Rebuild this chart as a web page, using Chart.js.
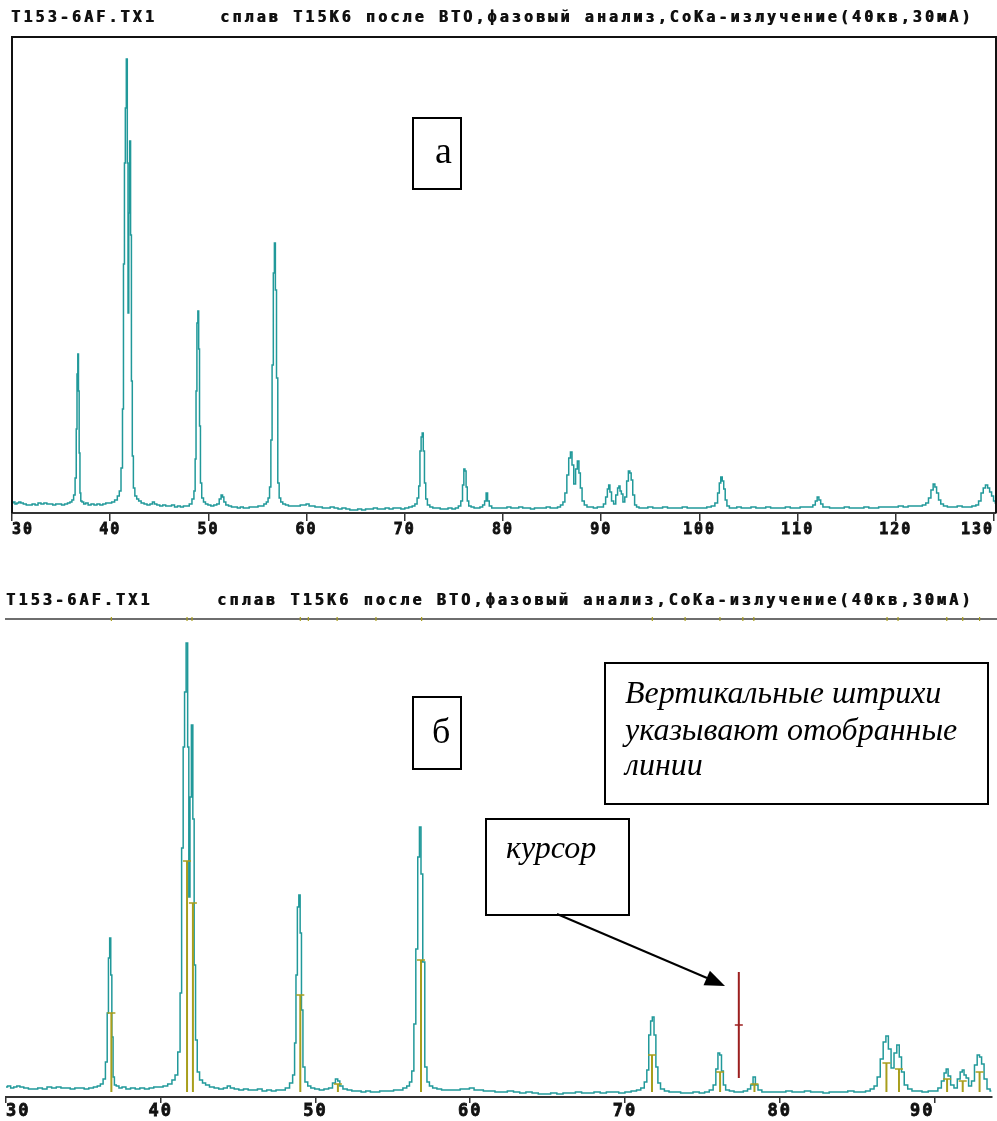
<!DOCTYPE html>
<html lang="ru">
<head>
<meta charset="utf-8">
<title>T153-6AF.TX1</title>
<script src="https://cdn.jsdelivr.net/npm/chart.js@4.4.1/dist/chart.umd.min.js"></script>
<style>
  html, body { margin: 0; padding: 0; background: #fff; }
  #page { position: relative; width: 997px; height: 1121px; overflow: hidden; }
  canvas { position: absolute; left: 0; }
  #top { top: 0; }
  #bottom { top: 545px; }
  svg { position: absolute; left: 0; top: 0; }
</style>
</head>
<body>
<div id="page">
  <canvas id="top" width="997" height="545"></canvas>
  <canvas id="bottom" width="997" height="576"></canvas>
  <svg width="997" height="1121" font-family="'Liberation Serif', 'Times New Roman', serif">
    <g fill="#fff" stroke="#000" stroke-width="2">
      <rect x="413" y="118" width="48" height="71"/>
      <rect x="413" y="697" width="48" height="72"/>
      <rect x="605" y="663" width="383" height="141"/>
      <rect x="486" y="819" width="143" height="96"/>
    </g>
    <text x="435" y="163" font-size="38">а</text>
    <text x="432" y="743" font-size="36">б</text>
    <g font-style="italic" font-size="32">
      <text x="625" y="703">Вертикальные штрихи</text>
      <text x="625" y="740">указывают отобранные</text>
      <text x="625" y="775">линии</text>
      <text x="506" y="858">курсор</text>
    </g>
    <line x1="557" y1="914" x2="707" y2="978" stroke="#000" stroke-width="2"/>
    <polygon points="725,986 703.5,985.3 709.9,970.7" fill="#000"/>
  </svg>
</div>
<script>
'use strict';
const fileName = 'T153-6AF.TX1';
const sampleTitle = 'сплав T15K6 после ВТО,фазовый анализ,CoKa-излучение(40кв,30мА)';

// diffractogram: [2theta, intensity]
const scan = [
  [30.0,10],[30.2,11],[30.4,9],[30.6,10],[30.8,11],[31.0,10],[31.3,9],[31.6,8],[31.9,8],[32.2,9],
  [32.5,8],[32.8,10],[33.1,9],[33.4,10],[33.7,9],[34.0,9],[34.3,8],[34.6,9],[34.9,9],[35.2,8],
  [35.5,9],[35.8,10],[36.0,11],[36.2,13],[36.35,18],[36.5,35],[36.58,84],[36.66,139],[36.74,159],[36.8,122],
  [36.88,60],[36.96,20],[37.05,12],[37.2,11],[37.4,9],[37.6,10],[37.9,8],[38.2,9],[38.5,8],[38.8,9],
  [39.1,8],[39.4,9],[39.7,10],[40.0,10],[40.3,11],[40.6,13],[40.85,17],[41.0,22],[41.2,45],[41.3,104],
  [41.4,249],[41.5,350],[41.58,405],[41.7,454],[41.78,350],[41.85,200],[41.93,300],[42.03,372],[42.12,278],[42.2,132],
  [42.3,57],[42.42,25],[42.6,17],[42.8,14],[43.0,12],[43.3,10],[43.6,9],[43.9,8],[44.2,9],[44.4,11],
  [44.6,9],[44.9,8],[45.2,7],[45.5,8],[45.8,7],[46.1,7],[46.4,8],[46.7,6],[47.0,7],[47.3,6],
  [47.6,7],[47.9,7],[48.2,9],[48.45,14],[48.6,22],[48.7,54],[48.78,122],[48.88,190],[48.97,202],[49.05,164],
  [49.14,87],[49.24,30],[49.4,15],[49.6,11],[49.8,9],[50.1,8],[50.4,7],[50.7,8],[51.0,9],[51.2,14],
  [51.38,18],[51.5,16],[51.65,11],[51.9,8],[52.2,7],[52.5,6],[52.8,6],[53.1,5],[53.4,6],[53.7,5],
  [54.0,5],[54.3,6],[54.6,6],[54.9,6],[55.2,7],[55.5,7],[55.8,9],[56.0,11],[56.15,15],[56.3,26],
  [56.42,73],[56.55,148],[56.67,240],[56.77,270],[56.87,223],[57.0,135],[57.13,30],[57.28,15],[57.45,11],[57.7,9],
  [58.0,8],[58.3,7],[58.6,7],[58.9,7],[59.2,7],[59.5,8],[59.8,8],[60.1,9],[60.4,7],[60.7,7],
  [61.0,6],[61.4,6],[61.8,5],[62.2,5],[62.6,6],[63.0,5],[63.4,4],[63.8,5],[64.2,4],[64.6,3],
  [65.0,3],[65.4,4],[65.8,3],[66.2,4],[66.6,4],[67.0,5],[67.4,4],[67.8,4],[68.2,5],[68.6,4],
  [69.0,5],[69.4,5],[69.8,4],[70.2,5],[70.6,6],[70.9,7],[71.15,9],[71.35,15],[71.48,27],[71.6,62],
  [71.72,76],[71.82,80],[71.94,62],[72.06,30],[72.2,14],[72.4,8],[72.7,6],[73.0,5],[73.4,5],[73.8,4],
  [74.2,4],[74.6,5],[75.0,4],[75.3,5],[75.6,7],[75.8,12],[75.95,28],[76.07,44],[76.18,42],[76.3,26],
  [76.42,12],[76.6,7],[76.9,6],[77.2,5],[77.5,5],[77.8,6],[78.05,8],[78.2,12],[78.36,20],[78.5,12],
  [78.7,7],[79.0,5],[79.4,5],[79.8,5],[80.2,5],[80.6,6],[81.0,5],[81.4,5],[81.8,6],[82.2,5],
  [82.6,5],[83.0,4],[83.4,5],[83.8,5],[84.2,5],[84.6,6],[85.0,5],[85.4,5],[85.7,6],[86.0,8],
  [86.2,11],[86.4,20],[86.6,38],[86.78,55],[86.95,61],[87.1,48],[87.3,29],[87.48,44],[87.66,52],[87.8,40],
  [87.95,25],[88.15,12],[88.4,8],[88.7,6],[89.0,6],[89.4,5],[89.8,6],[90.1,6],[90.35,9],[90.55,16],
  [90.7,24],[90.82,28],[90.95,21],[91.15,12],[91.38,9],[91.58,18],[91.75,25],[91.85,27],[91.98,22],[92.12,19],
  [92.3,11],[92.5,16],[92.68,32],[92.85,42],[92.98,40],[93.12,33],[93.3,18],[93.5,8],[93.7,6],[94.0,5],
  [94.5,5],[95.0,6],[95.5,5],[96.0,5],[96.5,6],[97.0,5],[97.5,5],[98.0,5],[98.5,6],[99.0,5],
  [99.5,5],[100.0,5],[100.5,5],[101.0,6],[101.4,7],[101.75,10],[101.95,20],[102.1,30],[102.25,36],[102.4,32],
  [102.55,24],[102.7,13],[102.9,7],[103.2,5],[103.6,5],[104.0,6],[104.5,5],[105.0,5],[105.5,6],[106.0,5],
  [106.5,5],[107.0,6],[107.5,5],[108.0,5],[108.5,5],[109.0,6],[109.5,5],[110.0,5],[110.5,6],[111.0,6],
  [111.4,6],[111.7,8],[111.9,12],[112.08,16],[112.25,13],[112.45,9],[112.7,6],[113.0,6],[113.5,5],[114.0,5],
  [114.5,5],[115.0,6],[115.5,5],[116.0,5],[116.5,5],[117.0,6],[117.5,5],[118.0,5],[118.5,6],[119.0,6],
  [119.5,6],[120.0,6],[120.5,7],[121.0,6],[121.5,7],[122.0,7],[122.5,7],[122.9,8],[123.2,10],[123.45,15],
  [123.7,23],[123.9,29],[124.05,26],[124.25,20],[124.45,13],[124.7,9],[125.0,7],[125.5,6],[126.0,6],[126.5,7],
  [127.0,6],[127.5,6],[128.0,7],[128.3,8],[128.55,12],[128.8,20],[129.0,25],[129.25,28],[129.45,25],[129.65,21],
  [129.85,17],[130.05,12],[130.2,10]
];

// selected lines (vertical strokes) in the lower picture
const stickAngles  = [36.81, 41.70, 42.08, 49.02, 51.45, 56.82, 71.75, 76.15, 78.37, 86.90, 87.71, 90.82, 91.83, 92.92];
const stickHeights = [84, 236, 194, 102, 13, 137, 42, 25, 13, 34, 28, 18, 16, 25];
const stickBase = 5;

// small marks on the header line
const markAngles = [36.81, 41.70, 42.02, 49.02, 49.54, 51.40, 53.91, 56.86, 71.77, 73.89,
                    76.14, 77.62, 78.33, 86.94, 87.65, 90.80, 91.83, 92.92];

const cursorAngle = 77.36;
const cursorRange = [19, 125];
const cursorTick = 72;

const xTicksTop = [30, 40, 50, 60, 70, 80, 90, 100, 110, 120, 130];
const xTicksBottom = [30, 40, 50, 60, 70, 80, 90];

const teal = '#21999a';
const olive = '#a89e1c';

// header in the wide bold screen font: one cell per char, drawn twice to fatten
function drawSpaced(ctx, text, x, y, step) {
  for (let i = 0; i < text.length; i++) {
    ctx.fillText(text[i], x + i * step, y);
    ctx.fillText(text[i], x + i * step + 0.8, y);
  }
}

function scanData() {
  return scan.map(p => ({ x: p[0], y: p[1] }));
}

// axis box height is pinned so the plot area lands where the picture has it
function xAxis(min, max, ticks, tickLen, fontSize, pad, boxH) {
  return {
    type: 'linear',
    min: min,
    max: max,
    border: { display: true, color: '#333', width: 2 },
    grid: { display: true, drawOnChartArea: false, drawTicks: true, tickLength: tickLen, color: '#333', lineWidth: 1.5 },
    ticks: {
      align: 'inner',
      padding: pad,
      color: '#111',
      textStrokeColor: '#111',
      textStrokeWidth: 0.8,
      maxRotation: 0,
      autoSkip: false,
      font: { family: '"DejaVu Sans Mono"', size: fontSize, weight: 'bold' }
    },
    afterBuildTicks: s => { s.ticks = ticks.map(v => ({ value: v })); },
    afterFit: s => { s.height = boxH; }
  };
}

/////////////////////////////////////////////////////// top: full range

const topDecor = {
  id: 'topDecor',
  beforeDraw(chart) { chart.ctx.letterSpacing = '2px'; },
  afterDraw(chart) {
    const ctx = chart.ctx;
    const a = chart.chartArea;
    ctx.save();
    ctx.letterSpacing = '0px';
    ctx.strokeStyle = '#111';
    ctx.lineWidth = 2;
    ctx.beginPath();
    ctx.moveTo(a.left, a.bottom);
    ctx.lineTo(a.left, a.top);
    ctx.lineTo(a.right, a.top);
    ctx.lineTo(a.right, a.bottom);
    ctx.stroke();
    ctx.fillStyle = '#111';
    ctx.font = 'bold 15px "DejaVu Sans Mono"';
    ctx.textBaseline = 'middle';
    drawSpaced(ctx, fileName, 11, 18, 12.15);
    drawSpaced(ctx, sampleTitle, 220, 18, 12.15);
    ctx.restore();
  }
};

new Chart(document.getElementById('top'), {
  type: 'line',
  data: {
    datasets: [{
      data: scanData(),
      borderColor: teal,
      borderWidth: 1.5,
      pointRadius: 0,
      stepped: 'middle'
    }]
  },
  options: {
    responsive: false,
    animation: false,
    layout: { padding: { left: 12, right: 1, top: 37, bottom: 0 } },
    plugins: { legend: { display: false }, tooltip: { enabled: false } },
    scales: {
      x: xAxis(30, 130.2, xTicksTop, 8, 15, 0, 32),
      y: { display: false, min: 0, max: 476 }
    }
  },
  plugins: [topDecor]
});

/////////////////////////////////////////////////////// bottom: zoomed, with selected lines

const stickData = [];
for (let i = 0; i < stickAngles.length; i++) {
  stickData.push({ x: stickAngles[i], y: stickBase });
  stickData.push({ x: stickAngles[i], y: stickHeights[i] });
  stickData.push({ x: stickAngles[i], y: null });
}

const bottomDecor = {
  id: 'bottomDecor',
  beforeDraw(chart) { chart.ctx.letterSpacing = '2px'; },
  beforeDatasetsDraw(chart) {
    const ctx = chart.ctx;
    const a = chart.chartArea;
    ctx.save();
    ctx.strokeStyle = '#6e6e6e';
    ctx.lineWidth = 2;
    ctx.beginPath();
    ctx.moveTo(5, a.top);
    ctx.lineTo(chart.width, a.top);
    ctx.stroke();
    ctx.restore();
  },
  afterDraw(chart) {
    const ctx = chart.ctx;
    ctx.save();
    ctx.letterSpacing = '0px';
    ctx.fillStyle = '#111';
    ctx.font = 'bold 15px "DejaVu Sans Mono"';
    ctx.textBaseline = 'middle';
    drawSpaced(ctx, fileName, 6, 56, 12.2);
    drawSpaced(ctx, sampleTitle, 217, 56, 12.2);
    ctx.restore();
  }
};

new Chart(document.getElementById('bottom'), {
  type: 'line',
  data: {
    datasets: [
      {
        data: scanData(),
        borderColor: teal,
        borderWidth: 1.5,
        pointRadius: 0,
        stepped: 'middle',
        order: 3
      },
      {
        data: stickData,
        borderColor: olive,
        borderWidth: 2,
        pointRadius: 0,
        spanGaps: false,
        order: 1
      },
      {
        data: stickAngles.map((a, i) => ({ x: a, y: stickHeights[i] })),
        showLine: false,
        pointStyle: 'line',
        pointRadius: 4,
        pointBorderWidth: 1.5,
        pointBorderColor: olive,
        order: 0
      },
      {
        data: markAngles.map(a => ({ x: a, y: 478 })),
        showLine: false,
        pointStyle: 'line',
        rotation: 90,
        pointRadius: 2,
        pointBorderWidth: 1.2,
        pointBorderColor: olive,
        clip: false,
        order: 0
      },
      {
        data: [{ x: cursorAngle, y: cursorRange[0] }, { x: cursorAngle, y: cursorRange[1] }],
        borderColor: '#9c1f1f',
        borderWidth: 2,
        pointRadius: 0,
        order: 0
      },
      {
        data: [{ x: cursorAngle, y: cursorTick }],
        showLine: false,
        pointStyle: 'line',
        pointRadius: 4,
        pointBorderWidth: 1.5,
        pointBorderColor: '#9c1f1f',
        order: 0
      }
    ]
  },
  options: {
    responsive: false,
    animation: false,
    layout: { padding: { left: 6, right: 0, top: 74, bottom: 0 } },
    plugins: { legend: { display: false }, tooltip: { enabled: false } },
    scales: {
      x: xAxis(30, 93.69, xTicksBottom, 6, 17, -2, 24),
      y: { display: false, min: 0, max: 478 }
    }
  },
  plugins: [bottomDecor]
});
</script>
</body>
</html>
